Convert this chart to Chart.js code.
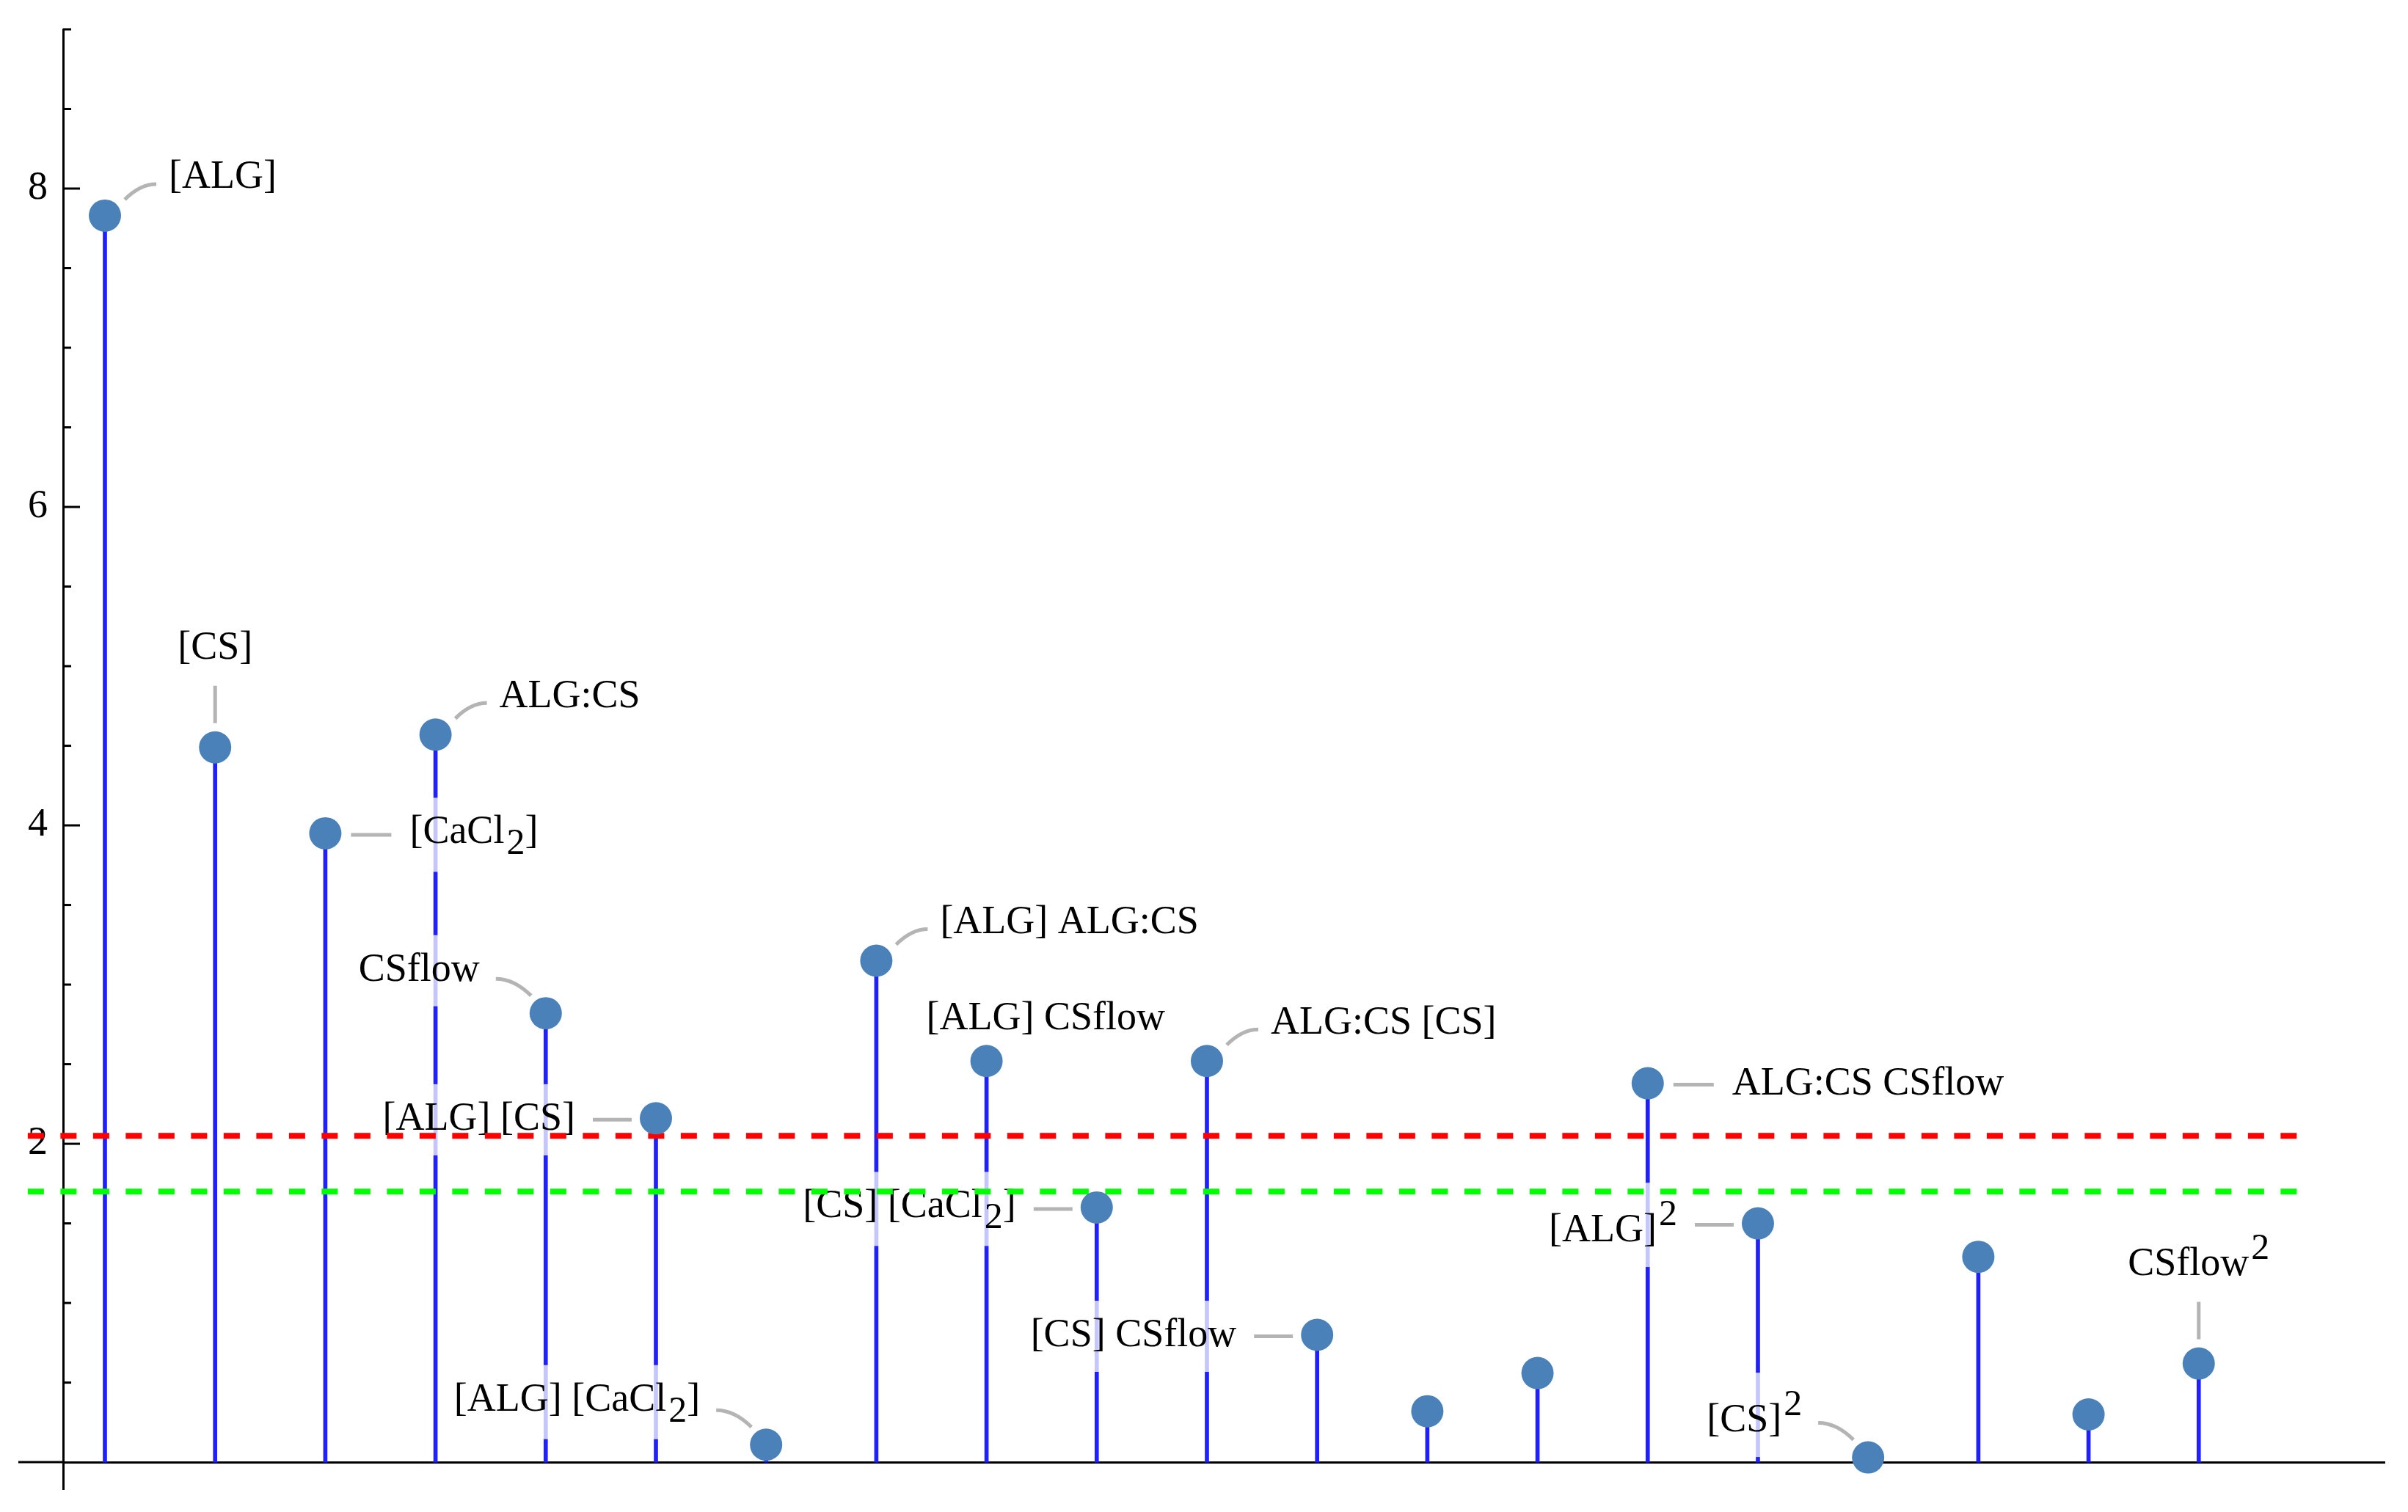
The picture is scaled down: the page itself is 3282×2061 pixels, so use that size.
<!DOCTYPE html>
<html><head><meta charset="utf-8">
<script src="https://cdn.jsdelivr.net/npm/chart.js@4.4.1/dist/chart.umd.min.js"></script>
<style>html,body{margin:0;padding:0;background:#fff;}canvas{display:block;}</style>
</head><body>
<canvas id="c" width="3282" height="2061" style="width:3282px;height:2061px"></canvas>
<script>
// ---- data ----
const termLabels = ['[ALG]','[CS]','[CaCl_2]','ALG:CS','CSflow','[ALG] [CS]','[ALG] [CaCl_2]','[ALG] ALG:CS',
  '[ALG] CSflow','[CS] [CaCl_2]','ALG:CS [CS]','[CS] CSflow','','','ALG:CS CSflow','[ALG]^2','[CS]^2','','','CSflow^2'];
const effectValues = [7.83, 4.49, 3.95, 4.57, 2.82, 2.16, 0.11, 3.15, 2.52, 1.60,
  2.52, 0.80, 0.32, 0.56, 2.38, 1.50, 0.03, 1.29, 0.30, 0.62];
const termIndex = termLabels.map((_, i) => i + 1);
const yTickLabels = [2, 4, 6, 8];
const yMinorStep = 0.5;
const referenceLevels = [2.05, 1.70];
const referenceColors = ['#ff0000', '#00ff00'];
const referenceSpan = [0.30, 21.02];

// ---- callout placement (layout only) ----
const calloutPlacement = ['ne','n','e','ne','nw','w','nw','ne','above','w','ne','w',null,null,'e','w','nw',null,null,'n'];
const GEOM = {
  ne:    {leader: [[27,-22],[48,-43],[70,-43]], align: 'left',   x: 87,   cy: -51},
  e:     {leader: [[35,2],[62,2],[90,2]],       align: 'left',   x: 115,  cy: 2},
  w:     {leader: [[-33,2],[-60,2],[-86,2]],    align: 'right',  x: -110, cy: 2},
  nw:    {leader: [[-20,-24],[-43,-47],[-68,-47]], align: 'right', x: -90, cy: -58},
  n:     {leader: [[0,-33],[0,-58],[0,-84]],    align: 'center', x: 0,    bottom: -110},
  above: {leader: null,                          align: 'left',   x: -82,  cy: -57}
};
const BASE_FONT = '54px "Liberation Serif"';
const SCRIPT_FONT = '50px "Liberation Serif"';

function parseLabel(s) {
  const segs = []; const re = /([_^])(\d)/g; let last = 0, m;
  while ((m = re.exec(s))) {
    if (m.index > last) segs.push({t: s.slice(last, m.index)});
    segs.push({t: m[2], sub: m[1] === '_', sup: m[1] === '^'});
    last = re.lastIndex;
  }
  if (last < s.length) segs.push({t: s.slice(last)});
  return segs;
}

const calloutPlugin = {
  id: 'callouts',
  afterDatasetDraw(chart, args) {
    if (args.index !== 0) return;
    const ctx = chart.ctx, xs = chart.scales.x, ys = chart.scales.y;
    const items = [];
    termLabels.forEach((lab, i) => {
      const dir = calloutPlacement[i];
      if (!lab || !dir) return;
      const g = GEOM[dir];
      const px = xs.getPixelForValue(termIndex[i]), py = ys.getPixelForValue(effectValues[i]);
      const segs = parseLabel(lab);
      let w = 0;
      segs.forEach(sg => {
        const scr = sg.sub || sg.sup;
        ctx.font = scr ? SCRIPT_FONT : BASE_FONT;
        sg.w = ctx.measureText(sg.t).width;
        w += sg.w + (scr ? 3 : 0);
      });
      const top = segs.some(s => s.sup) ? -56 : -38;
      const bottom = segs.some(s => s.sub) ? 15 : 11;
      let left = g.align === 'left' ? px + g.x : g.align === 'right' ? px + g.x - w : px + g.x - w / 2;
      let baseline = g.cy !== undefined ? py + g.cy - (top + bottom) / 2 : py + g.bottom - bottom;
      items.push({g, px, py, segs, w, top, bottom, left, baseline});
    });
    ctx.save();
    // backgrounds
    ctx.fillStyle = 'rgba(255,255,255,0.75)';
    items.forEach(it => {
      ctx.fillRect(it.left - 10, it.baseline + it.top - 24, it.w + 20, it.bottom - it.top + 48);
    });
    // leaders
    ctx.strokeStyle = '#b4b4b4'; ctx.lineWidth = 5; ctx.lineCap = 'butt';
    items.forEach(it => {
      const L = it.g.leader; if (!L) return;
      ctx.beginPath();
      ctx.moveTo(it.px + L[0][0], it.py + L[0][1]);
      ctx.quadraticCurveTo(it.px + L[1][0], it.py + L[1][1], it.px + L[2][0], it.py + L[2][1]);
      ctx.stroke();
    });
    // text
    ctx.fillStyle = '#000'; ctx.textAlign = 'left'; ctx.textBaseline = 'alphabetic';
    items.forEach(it => {
      let cx = it.left;
      it.segs.forEach(sg => {
        const scr = sg.sub || sg.sup;
        ctx.font = scr ? SCRIPT_FONT : BASE_FONT;
        if (scr) cx += 3;
        const dy = sg.sub ? 15 : sg.sup ? -22 : 0;
        ctx.fillText(sg.t, cx, it.baseline + dy);
        cx += sg.w;
      });
    });
    ctx.restore();
  }
};

const axisPlugin = {
  id: 'axisTicks',
  afterDraw(chart) {
    const ctx = chart.ctx, ys = chart.scales.y, xs = chart.scales.x, a = chart.chartArea;
    ctx.save();
    ctx.strokeStyle = '#000'; ctx.lineWidth = 3;
    for (let k = 1; k * yMinorStep <= ys.max + 1e-9; k++) {
      const v = k * yMinorStep;
      const major = yTickLabels.includes(v);
      const p = ys.getPixelForValue(v);
      ctx.beginPath(); ctx.moveTo(a.left, p); ctx.lineTo(a.left + (major ? 23 : 11), p); ctx.stroke();
    }
    const y0 = ys.getPixelForValue(0);
    ctx.beginPath(); ctx.moveTo(xs.getPixelForValue(0.214), y0); ctx.lineTo(a.left, y0); ctx.stroke();
    ctx.restore();
  }
};

new Chart(document.getElementById('c'), {
  type: 'scatter',
  data: {
    datasets: [
      {type: 'bar', label: 'stems', data: termIndex.map((x, i) => ({x, y: effectValues[i]})),
       backgroundColor: '#1f1fff', borderWidth: 0, barThickness: 5, order: 3, clip: false},
      {type: 'line', label: 'ref1', data: referenceSpan.map(x => ({x, y: referenceLevels[0]})),
       borderColor: referenceColors[0], borderWidth: 8, borderDash: [22, 22.5], pointRadius: 0, fill: false, order: 2, clip: false},
      {type: 'line', label: 'ref2', data: referenceSpan.map(x => ({x, y: referenceLevels[1]})),
       borderColor: referenceColors[1], borderWidth: 8, borderDash: [22, 22.5], pointRadius: 0, fill: false, order: 2, clip: false},
      {type: 'scatter', label: 'effects', data: termIndex.map((x, i) => ({x, y: effectValues[i]})),
       backgroundColor: '#4a81b9', borderWidth: 0, pointRadius: 22, order: 1, clip: false}
    ]
  },
  options: {
    responsive: false, animation: false, devicePixelRatio: 1, events: [],
    layout: {padding: {left: 25, right: 32, top: 40, bottom: 31}},
    plugins: {legend: {display: false}, tooltip: {enabled: false}, title: {display: false}},
    scales: {
      x: {type: 'linear', min: 0.6205, max: 21.686, offset: false, position: {y: 0}, z: 1,
          grid: {display: false, drawTicks: false}, ticks: {display: false},
          border: {display: true, color: '#000', width: 3},
          afterFit(s) { s.paddingLeft = 0; s.paddingRight = 0; s.paddingTop = 0; s.paddingBottom = 0; }},
      y: {type: 'linear', min: -0.17, max: 9, position: 'left',
          grid: {display: false, drawTicks: false},
          border: {display: true, color: '#000', width: 3},
          afterBuildTicks(s) { s.ticks = yTickLabels.map(v => ({value: v})); },
          ticks: {padding: 21, color: '#000', font: {family: 'Liberation Serif', size: 54, lineHeight: 1},
                  callback: v => String(v)},
          afterFit(s) { s.width = 61; s.paddingTop = 0; s.paddingBottom = 0; }}
    }
  },
  plugins: [calloutPlugin, axisPlugin]
});
</script>
</body></html>
